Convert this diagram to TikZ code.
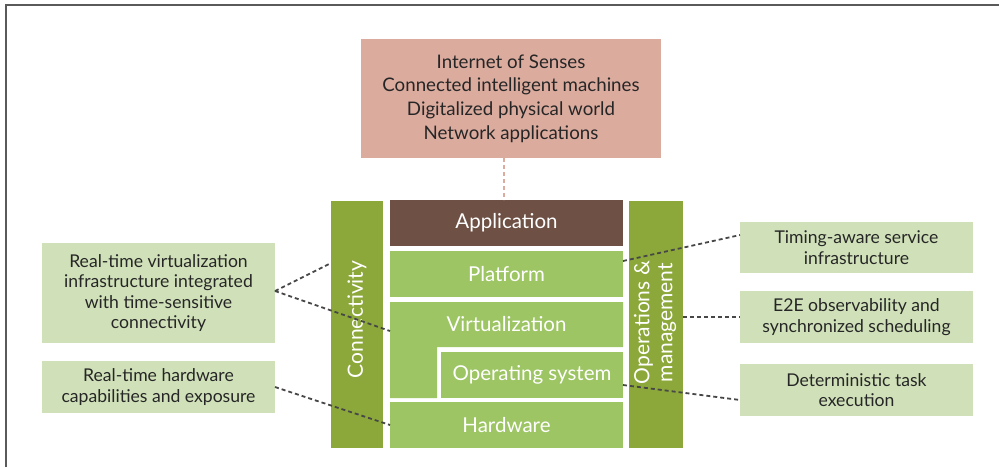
\documentclass[tikz,border=0pt]{standalone}
\usepackage{fontspec}
\setmainfont{Lato}
\definecolor{barGreen}{HTML}{8CA83A}
\definecolor{layerGreen}{HTML}{9DC564}
\definecolor{paleGreen}{HTML}{D0E1B9}
\definecolor{appBrown}{HTML}{6E5044}
\definecolor{rose}{HTML}{DBAB9E}
\definecolor{dashGray}{HTML}{474747}
\definecolor{frameGray}{HTML}{5A5A5A}
\begin{document}
\begin{tikzpicture}[x=1pt,y=-1pt,
  box/.style={inner sep=0pt, outer sep=0pt, align=center},
  layer/.style={box, fill=layerGreen, text=white, font=\fontsize{20.5}{24}\selectfont,
    minimum width=233pt, minimum height=46pt},
  sidebar/.style={box, fill=barGreen, text=white, font=\fontsize{21}{24}\selectfont,
    minimum height=247pt},
  note/.style={box, fill=paleGreen, text=black!85, font=\fontsize{17.6}{20.5}\selectfont,
    minimum width=233pt},
  link/.style={dashGray, line width=1.8pt, dash pattern=on 4pt off 3pt},
  uplink/.style={rose, line width=2pt, dash pattern=on 4pt off 3pt}]
\useasboundingbox (0,0) rectangle (999,467);
% outer frame (top and left edges)
\draw[frameGray, line width=1.8pt] (6,467) -- (6,5) -- (999,5);

% use cases on top
\node[box, fill=rose, text=black!85, font=\fontsize{18.7}{23.7}\selectfont,
  minimum width=300pt, minimum height=119pt] (usecases) at (511,98.5)
  {Internet of Senses\\Connected intelligent machines\\Digitalized physical world\\Network applications};

% vertical bars
\node[sidebar, minimum width=52pt] (conn) at (357,324.5)
  {\rotatebox{90}{\hspace{10pt}Connectivity}};
\node[sidebar, minimum width=54pt] (ops) at (656,324.5)
  {\rotatebox{90}{\hspace{4pt}\begin{tabular}{@{}c@{}}Operations \&\\[-1pt]management\end{tabular}}};

% layer stack
\node[layer, fill=appBrown] (app) at (506.5,223) {Application};
\node[layer] (plat) at (506.5,274) {Platform};
\fill[layerGreen] (390,302) -- (623,302) -- (623,347) -- (437,347) -- (437,398) -- (390,398) -- cycle;
\node[box, text=white, font=\fontsize{20.5}{24}\selectfont,
  minimum width=233pt, minimum height=45pt] (virt) at (506.5,324.5) {Virtualization};
\node[layer, minimum width=182pt] (os) at (532,375) {Operating system};
\node[layer] (hw) at (506.5,425) {Hardware};

% notes on the left
\node[note, minimum height=100pt] (rtvirt) at (158.5,293)
  {Real-time virtualization\\infrastructure integrated\\with time-sensitive\\connectivity};
\node[note, minimum height=52pt] (rthw) at (158.5,387)
  {Real-time hardware\\capabilities and exposure};

% notes on the right
\node[note, minimum height=51pt] (timing) at (856.5,247.5)
  {Timing-aware service\\infrastructure};
\node[note, minimum height=52pt] (e2e) at (856.5,317)
  {E2E observability and\\synchronized scheduling};
\node[note, minimum height=52pt] (determ) at (856.5,390)
  {Deterministic task\\execution};

% connectors
\draw[uplink] (usecases.south -| 504,0) -- (app.north -| 504,0);
\draw[link] ([yshift=2pt]rtvirt.east) -- ([yshift=61.5pt]conn.west);
\draw[link] ([yshift=2pt]rtvirt.east) -- ([yshift=-6.5pt]virt.west);
\draw[link] (rthw.east) -- (hw.west);
\draw[link] ([yshift=13pt]plat.east) -- ([yshift=12.5pt]timing.west);
\draw[link] (e2e.west -| ops.east) -- (e2e.west);
\draw[link] ([yshift=-10pt]os.east) -- ([yshift=-10pt]determ.west);
\end{tikzpicture}
\end{document}
